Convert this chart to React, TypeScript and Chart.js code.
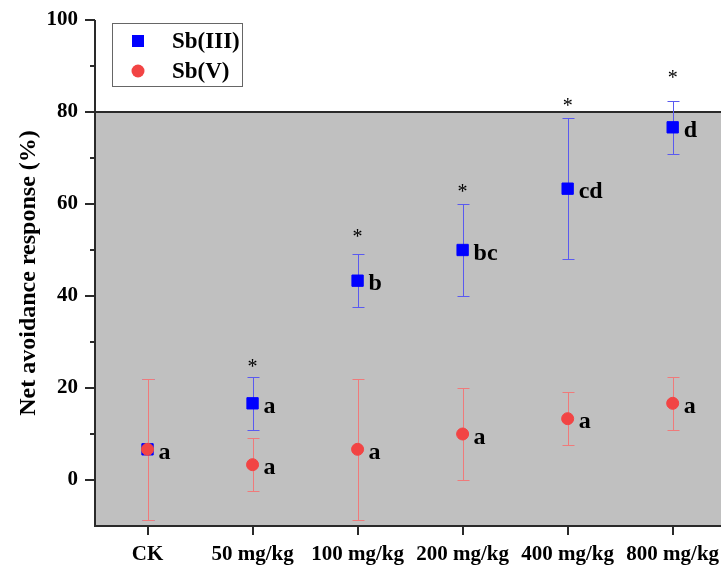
import React, { useEffect, useRef } from 'react';
import { Chart, registerables } from 'chart.js';

Chart.register(...registerables);

const categories = ['CK', '50 mg/kg', '100 mg/kg', '200 mg/kg', '400 mg/kg', '800 mg/kg'];
const sb3Values = [6.67, 16.67, 43.33, 50, 63.33, 76.67];
const sb3Errors = [15.28, 5.77, 5.77, 10, 15.28, 5.77];
const sb5Values = [6.67, 3.33, 6.67, 10, 13.33, 16.67];
const sb5Errors = [15.28, 5.77, 15.28, 10, 5.77, 5.77];
const sb3Letters = ['', 'a', 'b', 'bc', 'cd', 'd'];
const sb5Letters = ['a', 'a', 'a', 'a', 'a', 'a'];
const starPositions: (number | null)[] = [null, 25.5, 53.8, 63.5, 82.2, 88.3];
const yTicks = [0, 20, 40, 60, 80, 100];
const yMinorTicks = [10, 30, 50, 70, 90];
const shadeTop = 80;
const yMin = -10;
const yMax = 100;
const xMin = -0.5;
const xMax = 5.46;

const FONT = '"Liberation Serif", "Times New Roman", serif';
const BLUE = '#0000ff';
const RED = '#f24444';
const BLUE_ERR = '#5a5af0';
const RED_ERR = '#f07a7a';
const AXIS = '#2a2a2a';

function drawErrors(ctx: CanvasRenderingContext2D, x: any, y: any, vals: number[], errs: number[], color: string) {
  ctx.strokeStyle = color;
  ctx.lineWidth = 1;
  vals.forEach((v, i) => {
    const px = Math.round(x.getPixelForValue(i)) + 0.5;
    const top = Math.round(y.getPixelForValue(v + errs[i])) + 0.5;
    const bot = Math.round(y.getPixelForValue(v - errs[i])) + 0.5;
    ctx.beginPath();
    ctx.moveTo(px, top);
    ctx.lineTo(px, bot);
    ctx.moveTo(px - 6, top);
    ctx.lineTo(px + 6, top);
    ctx.moveTo(px - 6, bot);
    ctx.lineTo(px + 6, bot);
    ctx.stroke();
  });
}

const customPlugin = {
  id: 'customDraw',
  beforeDatasetsDraw(chart: any) {
    const { ctx, chartArea, scales } = chart;
    const { left, right, top, bottom } = chartArea;
    const x = scales.x;
    const y = scales.y;
    ctx.save();
    const y80 = y.getPixelForValue(shadeTop);
    ctx.fillStyle = '#c0c0c0';
    ctx.fillRect(left, y80, right - left + 5, bottom - y80);
    ctx.strokeStyle = AXIS;
    ctx.lineWidth = 2;
    ctx.beginPath();
    ctx.moveTo(left, y80);
    ctx.lineTo(right + 5, y80);
    ctx.stroke();
    ctx.beginPath();
    ctx.moveTo(left, top);
    ctx.lineTo(left, bottom);
    ctx.lineTo(right + 5, bottom);
    ctx.stroke();
    yMinorTicks.forEach((v) => {
      const py = y.getPixelForValue(v);
      ctx.beginPath();
      ctx.moveTo(left - 5, py);
      ctx.lineTo(left, py);
      ctx.stroke();
    });
    drawErrors(ctx, x, y, sb3Values, sb3Errors, BLUE_ERR);
    drawErrors(ctx, x, y, sb5Values, sb5Errors, RED_ERR);
    ctx.restore();
  },
  afterDatasetsDraw(chart: any) {
    const { ctx, chartArea, scales } = chart;
    const { left, top } = chartArea;
    const x = scales.x;
    const y = scales.y;
    ctx.save();
    ctx.fillStyle = '#000';
    ctx.font = `bold 24px ${FONT}`;
    ctx.textAlign = 'left';
    ctx.textBaseline = 'alphabetic';
    const drawLetters = (vals: number[], letters: string[]) => {
      vals.forEach((v, i) => {
        if (!letters[i]) return;
        ctx.fillText(letters[i], x.getPixelForValue(i) + 11, y.getPixelForValue(v) + 9.5);
      });
    };
    drawLetters(sb3Values, sb3Letters);
    drawLetters(sb5Values, sb5Letters);
    ctx.font = `20px ${FONT}`;
    ctx.textAlign = 'center';
    starPositions.forEach((s, i) => {
      if (s === null) return;
      const m = ctx.measureText('*');
      const off = (m.actualBoundingBoxAscent - m.actualBoundingBoxDescent) / 2;
      ctx.fillText('*', x.getPixelForValue(i), y.getPixelForValue(s) + off);
    });
    const bx = left + 17.5;
    const by = top + 3.5;
    ctx.fillStyle = '#ffffff';
    ctx.fillRect(bx, by, 130, 63);
    ctx.strokeStyle = '#666';
    ctx.lineWidth = 1;
    ctx.strokeRect(bx, by, 130, 63);
    ctx.fillStyle = BLUE;
    ctx.fillRect(left + 43 - 6, top + 21 - 6, 12, 12);
    ctx.fillStyle = RED;
    ctx.beginPath();
    ctx.arc(left + 43, top + 51, 6.5, 0, Math.PI * 2);
    ctx.fill();
    ctx.fillStyle = '#000';
    ctx.font = `bold 23px ${FONT}`;
    ctx.textAlign = 'left';
    ctx.textBaseline = 'middle';
    ctx.fillText('Sb(III)', left + 77, top + 22);
    ctx.fillText('Sb(V)', left + 77, top + 52);
    ctx.restore();
  },
};

export default function App() {
  const ref = useRef<HTMLCanvasElement | null>(null);
  useEffect(() => {
    document.documentElement.style.overflow = 'hidden';
    document.body.style.overflow = 'hidden';
    document.body.style.marginRight = '0px';
    if (!ref.current) return;
    const chart = new Chart(ref.current, {
      type: 'scatter',
      data: {
        datasets: [
          {
            label: 'Sb(V)',
            data: sb5Values.map((v, i) => ({ x: i, y: v })),
            pointStyle: 'circle',
            pointRadius: 6,
            backgroundColor: RED,
            borderColor: RED,
            borderWidth: 1,
            order: 0,
          },
          {
            label: 'Sb(III)',
            data: sb3Values.map((v, i) => ({ x: i, y: v })),
            pointStyle: 'rect',
            pointRadius: 8,
            backgroundColor: BLUE,
            borderColor: BLUE,
            borderWidth: 1,
            order: 1,
          },
        ],
      },
      options: {
        animation: false,
        responsive: false,
        devicePixelRatio: 1,
        layout: { autoPadding: false, padding: { top: 12, right: 0, left: 0, bottom: 0 } },
        plugins: { legend: { display: false }, tooltip: { enabled: false } },
        scales: {
          x: {
            type: 'linear',
            min: xMin,
            max: xMax,
            afterBuildTicks: (s: any) => {
              s.ticks = categories.map((_, i) => ({ value: i }));
            },
            afterFit: (s: any) => {
              s.height = 40;
              s.paddingLeft = 0;
              s.paddingRight = 0;
            },
            ticks: {
              callback: (v: any) => categories[v as number],
              font: { family: FONT, size: 21, weight: 'bold' },
              color: '#000',
              padding: 7,
              maxRotation: 0,
              autoSkip: false,
            },
            grid: { drawOnChartArea: false, tickLength: 9, color: AXIS, lineWidth: 2 },
            border: { display: false },
          },
          y: {
            min: yMin,
            max: yMax,
            afterBuildTicks: (s: any) => {
              s.ticks = yTicks.map((v) => ({ value: v }));
            },
            afterFit: (s: any) => {
              s.width = 87;
              s.paddingTop = 0;
              s.paddingBottom = 0;
            },
            ticks: {
              font: { family: FONT, size: 21, weight: 'bold' },
              color: '#000',
              padding: 7,
            },
            grid: { drawOnChartArea: false, tickLength: 10, color: AXIS, lineWidth: 2 },
            border: { display: false },
            title: {
              display: true,
              text: 'Net avoidance response (%)',
              font: { family: FONT, size: 24, weight: 'bold' },
              color: '#000',
              padding: { top: 6, bottom: 0 },
            },
          },
        },
      },
      plugins: [customPlugin],
    } as any);
    return () => chart.destroy();
  }, []);
  return (
    <div style={{ width: 713, height: 558 }}>
      <canvas ref={ref} width={713} height={558} style={{ display: 'block' }} />
    </div>
  );
}
